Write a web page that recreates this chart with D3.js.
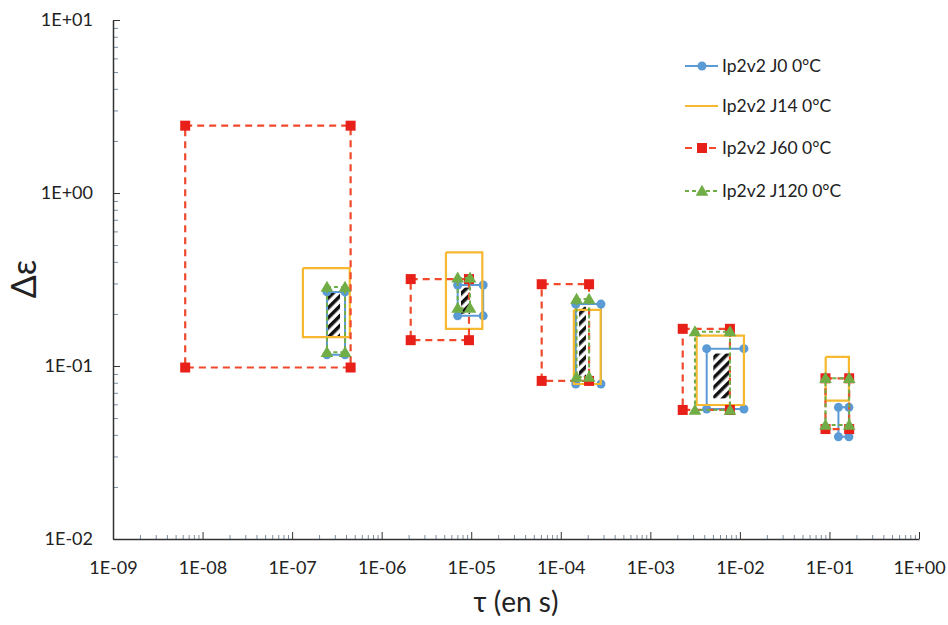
<!DOCTYPE html>
<html>
<head>
<meta charset="utf-8">
<script src="https://cdn.jsdelivr.net/npm/d3@7"></script>
<style>
  html, body { margin: 0; padding: 0; background: #fff; }
  svg { display: block; }
  text { font-family: Lato, "Open Sans", sans-serif; fill: #222; }
</style>
</head>
<body>
<svg id="chart" width="948" height="625"></svg>
<script>
// ---- Data (tau in s, delta-epsilon) : each rectangle = [tauMin, tauMax, epsMin, epsMax]
const seriesNames = ["Ip2v2 J0 0°C", "Ip2v2 J14 0°C", "Ip2v2 J60 0°C", "Ip2v2 J120 0°C"];
const rectsJ0 = [
  [2.45e-7, 3.9e-7, 0.116, 0.268],
  [7.06e-6, 1.36e-5, 0.195, 0.294],
  [1.47e-4, 2.81e-4, 0.0787, 0.228],
  [4.26e-3, 1.11e-2, 0.0564, 0.126],
  [0.126, 0.165, 0.039, 0.0577]
];
const rectsJ14 = [
  [1.32e-7, 4.4e-7, 0.147, 0.368],
  [5.22e-6, 1.33e-5, 0.164, 0.454],
  [1.40e-4, 2.79e-4, 0.0787, 0.211],
  [3.29e-3, 1.11e-2, 0.0595, 0.150],
  [0.0908, 0.165, 0.063, 0.113]
];
const rectsJ60 = [
  [6.4e-9, 4.5e-7, 0.098, 2.45],
  [2.11e-6, 9.44e-6, 0.141, 0.318],
  [6.12e-5, 2.07e-4, 0.082, 0.297],
  [2.30e-3, 7.74e-3, 0.0557, 0.164],
  [0.0903, 0.166, 0.0432, 0.0849]
];
const rectsJ120 = [
  [2.45e-7, 3.9e-7, 0.120, 0.286],
  [7.06e-6, 9.7e-6, 0.216, 0.323],
  [1.50e-4, 2.07e-4, 0.0863, 0.244],
  [3.15e-3, 7.76e-3, 0.0557, 0.158],
  [0.0903, 0.166, 0.0456, 0.085]
];
// hatched common zones
const hatchRects = [
  [2.52e-7, 3.43e-7, 0.147, 0.268],
  [7.69e-6, 9.7e-6, 0.200, 0.284],
  [1.60e-4, 1.91e-4, 0.0867, 0.220],
  [5.05e-3, 7.6e-3, 0.065, 0.118]
];
const xTickValues = [1e-9, 1e-8, 1e-7, 1e-6, 1e-5, 1e-4, 1e-3, 1e-2, 1e-1, 1];
const xTickLabels = ["1E-09", "1E-08", "1E-07", "1E-06", "1E-05", "1E-04", "1E-03", "1E-02", "1E-01", "1E+00"];
const yTickValues = [0.01, 0.1, 1, 10];
const yTickLabels = ["1E-02", "1E-01", "1E+00", "1E+01"];
const xTitle = "τ (en s)";
const yTitle = "Δε";

// ---- Styles
const styles = [
  { data: rectsJ0,  color: "#5B9BD5", marker: "circle",   dash: null,  mcolor: "#5B9BD5", width: 2 },
  { data: rectsJ14, color: "#F5B82E", marker: null,       dash: null,  mcolor: null,      width: 2.2 },
  { data: rectsJ60, color: "#F0492B", marker: "square",   dash: "7,5", mcolor: "#E8201A", width: 2.2 },
  { data: rectsJ120,color: "#70AD47", marker: "triangle", dash: "4,3", mcolor: "#70AD47", width: 2 }
];

const svg = d3.select("#chart");
const x = d3.scaleLog().domain([1e-9, 1]).range([113, 919]);
const y = d3.scaleLog().domain([0.01, 10]).range([539, 20]);

// hatch pattern
const defs = svg.append("defs");
const pat = defs.append("pattern").attr("id", "hatch").attr("patternUnits", "userSpaceOnUse")
  .attr("width", 7).attr("height", 7).attr("patternTransform", "rotate(45)");
pat.append("rect").attr("width", 7).attr("height", 7).attr("fill", "#fff");
pat.append("rect").attr("x", 0).attr("width", 3.5).attr("height", 7).attr("fill", "#111");

// minor ticks
function minors(lo, hi) {
  const out = [];
  for (let e = lo; e < hi; e++) for (let k = 2; k <= 9; k++) out.push(k * Math.pow(10, e));
  return out;
}
const gAx = svg.append("g");
gAx.append("g").attr("transform", "translate(0,539)")
  .call(d3.axisBottom(x).tickValues(minors(-9, 0)).tickSize(-4).tickFormat(""))
  .call(g => { g.select(".domain").remove(); g.selectAll("line").attr("stroke", "#7a8ea0"); });
gAx.append("g").attr("transform", "translate(113,0)")
  .call(d3.axisLeft(y).tickValues(minors(-2, 1)).tickSize(-5).tickFormat(""))
  .call(g => { g.select(".domain").remove(); g.selectAll("line").attr("stroke", "#7a8ea0"); });

// major axes
gAx.append("g").attr("transform", "translate(0,539)")
  .call(d3.axisBottom(x).tickValues(xTickValues).tickSize(-7).tickSizeOuter(0).tickPadding(22)
    .tickFormat((d, i) => xTickLabels[i]))
  .call(g => {
    g.select(".domain").attr("stroke", "#333").attr("stroke-width", 1.5);
    g.selectAll("line").attr("stroke", "#333");
    g.selectAll("text").attr("font-size", 18).attr("fill", "#333").style("font-family", "Lato, sans-serif");
  });
gAx.append("g").attr("transform", "translate(113,0)")
  .call(d3.axisLeft(y).tickValues(yTickValues).tickSize(-7).tickSizeOuter(0).tickPadding(20)
    .tickFormat((d, i) => yTickLabels[i]))
  .call(g => {
    g.select(".domain").attr("stroke", "#333").attr("stroke-width", 1.5);
    g.selectAll("line").attr("stroke", "#333");
    g.selectAll("text").attr("font-size", 18).attr("fill", "#333").style("font-family", "Lato, sans-serif");
  });

// titles
svg.append("text").attr("x", 516).attr("y", 612).attr("text-anchor", "middle")
  .attr("font-size", 28).attr("fill", "#333").text(xTitle);
svg.append("text").attr("transform", "translate(36,279) rotate(-90)").attr("text-anchor", "middle")
  .attr("font-size", 34).attr("fill", "#333").text(yTitle);

// hatched zones
svg.append("g").selectAll("rect").data(hatchRects).join("rect")
  .attr("x", d => x(d[0])).attr("width", d => x(d[1]) - x(d[0]))
  .attr("y", d => y(d[3])).attr("height", d => y(d[2]) - y(d[3]))
  .attr("fill", "url(#hatch)");

// markers
function drawMarker(g, type, cx, cy, color) {
  if (type === "circle") g.append("circle").attr("cx", cx).attr("cy", cy).attr("r", 4.5).attr("fill", color);
  else if (type === "square") g.append("rect").attr("x", cx - 5).attr("y", cy - 5).attr("width", 10).attr("height", 10).attr("fill", color);
  else if (type === "triangle") g.append("path").attr("d", d3.symbol().type(d3.symbolTriangle).size(70)()).attr("transform", `translate(${cx},${cy + 1})`).attr("fill", color);
}

const line = d3.line();
styles.forEach(s => {
  const g = svg.append("g");
  s.data.forEach(r => {
    const pts = [[r[0], r[3]], [r[1], r[3]], [r[1], r[2]], [r[0], r[2]], [r[0], r[3]]]
      .map(p => [x(p[0]), y(p[1])]);
    g.append("path").attr("d", line(pts)).attr("fill", "none").attr("stroke", s.color)
      .attr("stroke-width", s.width).attr("stroke-dasharray", s.dash);
    if (s.marker) pts.slice(0, 4).forEach(p => drawMarker(g, s.marker, p[0], p[1], s.mcolor));
  });
});

// legend
const legY = [66, 106, 148, 191];
const leg = svg.append("g");
styles.forEach((s, i) => {
  const gy = legY[i];
  leg.append("line").attr("x1", 685).attr("x2", 718).attr("y1", gy).attr("y2", gy)
    .attr("stroke", s.color).attr("stroke-width", s.width).attr("stroke-dasharray", s.dash);
  if (s.marker) drawMarker(leg, s.marker, 702, gy, s.mcolor);
  leg.append("text").attr("x", 722).attr("y", gy).attr("dy", "0.35em")
    .attr("font-size", 17.5).attr("fill", "#333").text(seriesNames[i]);
});
</script>
</body>
</html>
